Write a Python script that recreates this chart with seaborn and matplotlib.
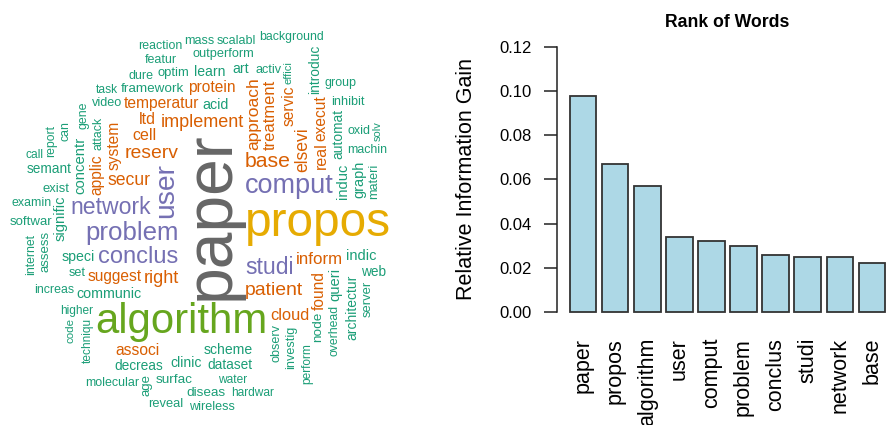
import numpy as np
import matplotlib
matplotlib.use('Agg')
import matplotlib.pyplot as plt
import seaborn as sns

plt.rcParams['font.family'] = 'Liberation Sans'

# stemmed words and their relative information gain, highest first
# (the first ten are the ranked bars on the right)
words = ['paper', 'propos', 'algorithm', 'user', 'comput', 'problem', 'conclus', 'studi',
         'network', 'base',
         'reserv', 'patient', 'implement', 'right', 'secur', 'elsevi', 'approach', 'inform',
         'treatment', 'cloud', 'cell', 'ltd', 'real', 'associ', 'temperatur', 'suggest',
         'system', 'servic', 'applic', 'protein', 'execut', 'found',
         'concentr', 'queri', 'signific', 'indic', 'induc', 'graph', 'communic', 'acid',
         'speci', 'learn', 'art', 'scheme', 'clinic', 'architectur', 'decreas', 'introduc',
         'automat', 'semant', 'dataset', 'web', 'framework', 'node', 'surfac', 'diseas',
         'softwar', 'assess', 'age', 'exist', 'server', 'optim', 'reveal', 'outperform',
         'set', 'wireless', 'observ', 'investig', 'mass', 'activ', 'video', 'inhibit',
         'materi', 'featur', 'scalabl', 'dure', 'molecular', 'oxid', 'group', 'background',
         'reaction', 'attack', 'gene', 'can', 'examin', 'increas', 'machin', 'report',
         'internet', 'overhead', 'task', 'call', 'higher', 'techniqu', 'water', 'hardwar',
         'perform', 'code', 'effici', 'solv']
gain = [0.098, 0.067, 0.057, 0.034, 0.032, 0.030, 0.026, 0.025, 0.025, 0.022,
        0.0189, 0.0188, 0.0166, 0.0166, 0.0159, 0.0159, 0.0154, 0.0147, 0.0141, 0.0137,
        0.0132, 0.0132, 0.0132, 0.0126, 0.0126, 0.0124, 0.0124, 0.0124, 0.0124, 0.0124,
        0.0124, 0.0124,
        0.0112, 0.0111, 0.0110, 0.0108, 0.0108, 0.0106, 0.0103, 0.0101, 0.0099, 0.0098,
        0.0098, 0.0098, 0.0098, 0.0096, 0.0094, 0.0094, 0.0094, 0.0092, 0.0092, 0.0091,
        0.0089, 0.0089, 0.0089, 0.0089, 0.0086, 0.0084, 0.0084, 0.0081, 0.0081, 0.0080,
        0.0079, 0.0077, 0.0075, 0.0075, 0.0075, 0.0075, 0.0074, 0.0074, 0.0074, 0.0074,
        0.0074, 0.0072, 0.0072, 0.0072, 0.0072, 0.0072, 0.0072, 0.0070, 0.0070, 0.0070,
        0.0070, 0.0070, 0.0070, 0.0070, 0.0070, 0.0069, 0.0069, 0.0068, 0.0064, 0.0064,
        0.0062, 0.0062, 0.0062, 0.0062, 0.0062, 0.0055, 0.0050, 0.0050]

# words the cloud writes vertically
rotated = {'paper', 'user', 'elsevi', 'approach', 'treatment', 'real', 'system', 'servic',
           'applic', 'execut', 'found', 'concentr', 'queri', 'signific', 'induc', 'graph',
           'architectur', 'introduc', 'automat', 'node', 'assess', 'age', 'server', 'observ',
           'investig', 'materi', 'attack', 'gene', 'can', 'report', 'internet', 'overhead',
           'techniqu', 'perform', 'code', 'effici', 'solv'}

# direction (degrees) in which each word is pushed out from the centre of the cloud
direction = {'paper': 0, 'propos': 352, 'algorithm': 250, 'user': 147, 'comput': 19,
             'problem': 192, 'conclus': 211, 'studi': 314, 'network': 173, 'base': 42,
             'reserv': 134, 'patient': 306, 'implement': 100, 'right': 227, 'secur': 153,
             'elsevi': 38, 'approach': 68, 'inform': 334, 'treatment': 60, 'cloud': 304,
             'cell': 132, 'ltd': 120, 'real': 27, 'associ': 237, 'temperatur': 118,
             'suggest': 210, 'system': 140, 'servic': 51, 'applic': 160, 'protein': 90,
             'execut': 40, 'found': 323, 'concentr': 159, 'queri': 329, 'signific': 185,
             'indic': 343, 'induc': 11, 'graph': 18, 'communic': 213, 'acid': 90,
             'speci': 197, 'learn': 91, 'art': 77, 'scheme': 281, 'clinic': 264,
             'architectur': 323, 'decreas': 240, 'introduc': 51, 'automat': 35,
             'semant': 160, 'dataset': 281, 'web': 337, 'framework': 113, 'node': 312,
             'surfac': 253, 'diseas': 266, 'softwar': 182, 'assess': 190, 'age': 253,
             'exist': 170, 'server': 330, 'optim': 101, 'reveal': 252, 'outperform': 82,
             'set': 201, 'wireless': 266, 'observ': 297, 'investig': 301, 'mass': 98,
             'activ': 69, 'video': 129, 'inhibit': 36, 'materi': 14, 'featur': 112,
             'scalabl': 84, 'dure': 121, 'molecular': 237, 'oxid': 34, 'group': 46,
             'background': 66, 'reaction': 109, 'attack': 142, 'gene': 138, 'can': 146,
             'examin': 174, 'increas': 203, 'machin': 23, 'report': 155, 'internet': 192,
             'overhead': 315, 'task': 128, 'call': 165, 'higher': 179, 'techniqu': 223,
             'water': 281, 'hardwar': 283, 'perform': 303, 'code': 217, 'effici': 58,
             'solv': 29}

n_bars = 10
dpi = 100
palette = sns.color_palette('Dark2', 8)

fig = plt.figure(figsize=(8.86, 4.25), dpi=dpi)

# ---------------- word cloud (left half, 1 data unit = 1 pixel) ----------------
W, H = 443, 425
ax_wc = fig.add_axes([0, 0, W / 886, 1])
ax_wc.set_xlim(0, W)
ax_wc.set_ylim(0, H)
ax_wc.axis('off')
renderer = fig.canvas.get_renderer()

cx, cy = 212, 209
top = max(gain)
radii = np.arange(0, 320, 0.5)
# try close to the wanted direction first, then widen the search
stages = [np.array([0, 2, -2, 4, -4]),
          np.arange(-45, 46, 3),
          np.arange(0, 360, 3)]
placed = np.zeros((0, 4))


def free_spot(theta, bw, bh):
    for offs in stages:
        ang = np.radians(theta + offs)
        xs = (cx + radii[:, None] * np.cos(ang)[None, :]).ravel()
        ys = (cy + radii[:, None] * np.sin(ang)[None, :]).ravel()
        boxes = np.stack([xs - bw / 2, ys - bh / 2, xs + bw / 2, ys + bh / 2], axis=1)
        ok = (boxes[:, 0] >= 0) & (boxes[:, 1] >= 0) & (boxes[:, 2] <= W) & (boxes[:, 3] <= H)
        if len(placed):
            hit = ((boxes[:, None, 0] < placed[None, :, 2]) & (boxes[:, None, 2] > placed[None, :, 0]) &
                   (boxes[:, None, 1] < placed[None, :, 3]) & (boxes[:, None, 3] > placed[None, :, 1]))
            ok &= ~hit.any(axis=1)
        if ok.any():
            k = np.argmax(ok)
            return xs[k], ys[k], boxes[k]
    return cx, cy, np.array([cx - bw / 2, cy - bh / 2, cx + bw / 2, cy + bh / 2])


for i in sorted(range(len(words)), key=lambda k: -gain[k]):
    w = words[i]
    n = gain[i] / top
    size = (3.5 * n + 0.5) * 16.5 * 72 / dpi   # wordcloud's scale=c(4, .5)
    col = palette[int(np.ceil(8 * n - 1e-9)) - 1]
    t = ax_wc.text(0, 0, w, fontsize=size, color=col, ha='center', va='center',
                   rotation=90 if w in rotated else 0)
    bb = t.get_window_extent(renderer)
    x, y, box = free_spot(direction[w], bb.width + 2, bb.height + 1)
    t.set_position((x, y))
    placed = np.vstack([placed, box])

# ---------------- bar chart of the top ranked words ----------------
ax = fig.add_axes([557 / 886, 1 - 322.6 / 425, 341 / 886, 286.2 / 425])
sns.barplot(x=words[:n_bars], y=gain[:n_bars], color='#ADD8E6', saturation=1,
            width=0.833, edgecolor='#333333', linewidth=1.3, ax=ax)
ax.set_xlim(-0.81, 9.81)
ax.set_ylim(-0.0048, 0.1248)
for s in ['top', 'right', 'bottom']:
    ax.spines[s].set_visible(False)
ax.spines['left'].set_bounds(0, 0.12)
ax.spines['left'].set_color('#222222')
ax.spines['left'].set_linewidth(1.1)
yt = np.arange(0, 0.121, 0.02)
ax.set_yticks(yt)
ax.set_yticklabels([f'{v:.2f}' for v in yt])
ax.tick_params(axis='y', length=9.4, width=1.1, color='#222222', pad=9, labelsize=12)
ax.tick_params(axis='x', length=0, pad=11, labelsize=15.5, labelrotation=90)
ax.set_xlabel('')
ax.set_ylabel('Relative Information Gain', fontsize=15.5, labelpad=16)
ax.set_title('Rank of Words', fontsize=12.7, fontweight='bold', pad=6.8)

fig.savefig('out.png', dpi=dpi)
